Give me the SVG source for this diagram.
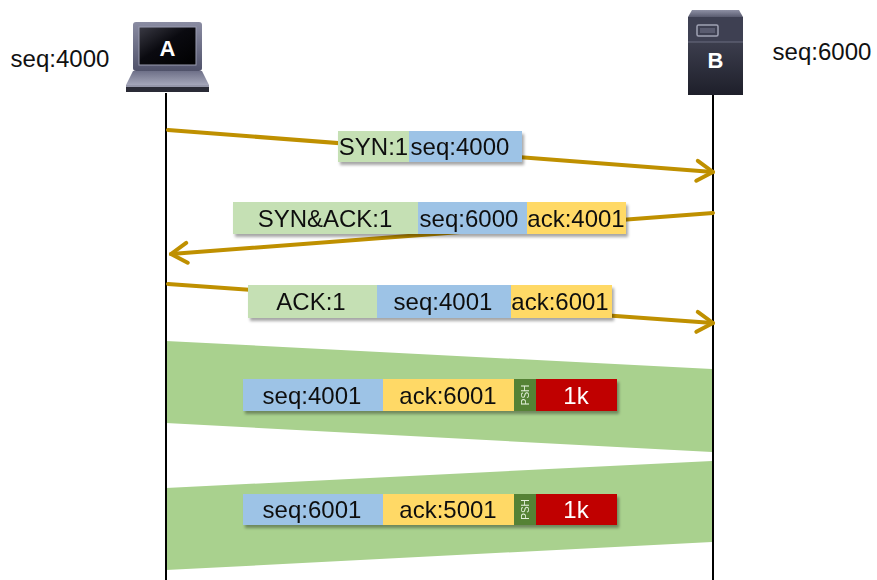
<svg xmlns="http://www.w3.org/2000/svg" width="877" height="580" viewBox="0 0 877 580">
<style>
  .t{font-family:"Liberation Sans",Arial,sans-serif;font-size:24px;fill:#111;text-anchor:middle}
  .w{fill:#fff}
  .psh{font-family:"Liberation Sans",Arial,sans-serif;font-size:10px;fill:#e2efda;text-anchor:middle}
  .life{stroke:#000;stroke-width:2;fill:none}
  .arr{stroke:#BF9000;stroke-width:4;fill:none;stroke-linecap:round}
  .g{fill:#C5E0B4}.b{fill:#9DC3E6}.y{fill:#FFD966}.r{fill:#C00000}.p{fill:#548235}
  .band{fill:#A9D18E}
  .lbl{filter:url(#sh)}
  .ic{font-family:"Liberation Sans",Arial,sans-serif;font-size:22px;font-weight:bold;fill:#fff;text-anchor:middle}
</style>
<defs>
  <filter id="sh" x="-10%" y="-30%" width="125%" height="180%">
    <feDropShadow dx="2" dy="3" stdDeviation="1.5" flood-color="#000" flood-opacity="0.35"/>
  </filter>
  <marker id="ah" viewBox="-22 -14 28 28" refX="0" refY="0" markerWidth="28" markerHeight="28" markerUnits="userSpaceOnUse" orient="auto">
    <path d="M-16,-10 L0,0 L-16,10" fill="none" stroke="#BF9000" stroke-width="4" stroke-linecap="round" stroke-linejoin="round"/>
  </marker>
  <linearGradient id="bez" x1="0" y1="0" x2="0" y2="1">
    <stop offset="0" stop-color="#8a8ca2"/><stop offset="1" stop-color="#50526a"/>
  </linearGradient>
  <linearGradient id="scr" x1="0" y1="0" x2="1" y2="1">
    <stop offset="0" stop-color="#3a3a44"/><stop offset="0.45" stop-color="#0a0a10"/><stop offset="1" stop-color="#000"/>
  </linearGradient>
  <linearGradient id="base" x1="0" y1="0" x2="0" y2="1">
    <stop offset="0" stop-color="#6e7088"/><stop offset="1" stop-color="#a5a7ba"/>
  </linearGradient>
  <linearGradient id="srv" x1="0" y1="0" x2="0" y2="1">
    <stop offset="0" stop-color="#4a4c5e"/><stop offset="1" stop-color="#1e1f2a"/>
  </linearGradient>
  <linearGradient id="srvtop" x1="0" y1="0" x2="0" y2="1">
    <stop offset="0" stop-color="#8e90a4"/><stop offset="1" stop-color="#5a5c70"/>
  </linearGradient>
</defs>

<g id="bands">
  <polygon class="band" points="166,341 712,369 712,452 166,423"/>
  <polygon class="band" points="166,488 712,461 712,542 166,570"/>
</g>

<g id="lifelines">
  <line class="life" x1="166" y1="93" x2="166" y2="580"/>
  <line class="life" x1="713" y1="95" x2="713" y2="580"/>
</g>

<g id="nodeA">
  <rect x="133" y="22" width="69" height="49" rx="3" fill="url(#bez)"/>
  <rect x="139" y="27" width="57" height="38" fill="url(#scr)" stroke="#9a9cb0" stroke-width="1"/>
  <text class="ic" x="167.5" y="56">A</text>
  <polygon points="133,71 202,71 209,85 126,85" fill="url(#base)"/>
  <rect x="126" y="85" width="83" height="7" fill="#2a2b36"/>
  <rect x="126" y="85" width="83" height="2" fill="#9597aa"/>
  <text class="t" x="60" y="67">seq:4000</text>
</g>

<g id="nodeB">
  <polygon points="692,10 739,10 743,17 688,17" fill="url(#srvtop)"/>
  <rect x="688" y="17" width="55" height="78" fill="url(#srv)"/>
  <rect x="688" y="17" width="55" height="25" fill="#3e4052"/>
  <line x1="688" y1="42" x2="743" y2="42" stroke="#6a6c80" stroke-width="1"/>
  <rect x="697" y="25" width="21" height="11" rx="1.5" fill="none" stroke="#a0a2b4" stroke-width="1.5"/>
  <rect x="700" y="28" width="15" height="5" fill="#5a5c70"/>
  <text class="ic" x="715.5" y="68">B</text>
  <text class="t" x="822" y="60">seq:6000</text>
</g>

<g id="connectors">
  <line class="arr" x1="168" y1="130" x2="713" y2="172" marker-end="url(#ah)"/>
  <line class="arr" x1="713" y1="213" x2="171" y2="254" marker-end="url(#ah)"/>
  <line class="arr" x1="168" y1="284" x2="713" y2="323" marker-end="url(#ah)"/>
</g>

<g id="label-syn" class="lbl">
  <rect class="g" x="338" y="131" width="71" height="31"/>
  <rect class="b" x="409" y="131" width="113" height="31"/>
  <text class="t" x="373.5" y="155">SYN:1</text>
  <text class="t" x="460" y="155">seq:4000</text>
</g>

<g id="label-synack" class="lbl">
  <rect class="g" x="233" y="202" width="185" height="32"/>
  <rect class="b" x="418" y="202" width="109" height="32"/>
  <rect class="y" x="527" y="202" width="99" height="32"/>
  <text class="t" x="325" y="227">SYN&amp;ACK:1</text>
  <text class="t" x="469" y="227">seq:6000</text>
  <text class="t" x="576" y="227">ack:4001</text>
</g>

<g id="label-ack" class="lbl">
  <rect class="g" x="248" y="285" width="129" height="33"/>
  <rect class="b" x="377" y="285" width="134" height="33"/>
  <rect class="y" x="511" y="285" width="101" height="33"/>
  <text class="t" x="311" y="310">ACK:1</text>
  <text class="t" x="443" y="310">seq:4001</text>
  <text class="t" x="560" y="310">ack:6001</text>
</g>

<g id="data1" class="lbl">
  <rect class="b" x="243" y="379" width="140" height="32"/>
  <rect class="y" x="383" y="379" width="131" height="32"/>
  <rect class="p" x="514" y="379" width="22" height="32"/>
  <rect class="r" x="536" y="379" width="81" height="32"/>
  <text class="t" x="312" y="404">seq:4001</text>
  <text class="t" x="448" y="404">ack:6001</text>
  <text class="psh" transform="translate(528.5,395) rotate(-90)">PSH</text>
  <text class="t w" x="576" y="404">1k</text>
</g>

<g id="data2" class="lbl">
  <rect class="b" x="243" y="494" width="140" height="31"/>
  <rect class="y" x="383" y="494" width="131" height="31"/>
  <rect class="p" x="514" y="494" width="22" height="31"/>
  <rect class="r" x="536" y="494" width="81" height="31"/>
  <text class="t" x="312" y="518">seq:6001</text>
  <text class="t" x="448" y="518">ack:5001</text>
  <text class="psh" transform="translate(528.5,509.5) rotate(-90)">PSH</text>
  <text class="t w" x="576" y="518">1k</text>
</g>
</svg>
